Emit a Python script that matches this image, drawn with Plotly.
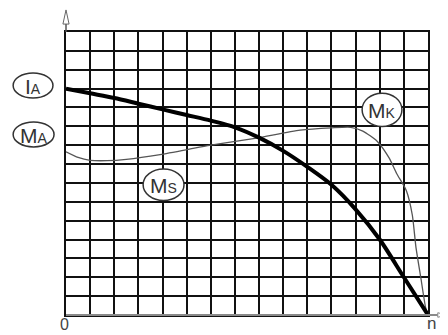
import plotly.graph_objects as go

# -------------------------------------------------------
# Curve data (grid units: 15 x 15 cells)
# -------------------------------------------------------
n_ia = [0, 1, 2, 3, 4, 5, 6, 7, 8, 9, 10, 11, 12, 13, 14, 15]
ia = [12.0, 11.75, 11.5, 11.2, 10.9, 10.6, 10.3, 9.95, 9.4, 8.7, 7.85, 6.9, 5.6, 4.0, 2.0, 0.0]

n_mk = [0, 0.5, 1.0, 1.7, 2.5, 3.9, 6.0, 7.9, 9.7, 11.0, 11.8, 12.3, 12.9, 13.4,
        13.7, 14.1, 14.35, 14.5, 14.7, 14.9, 15]
mk = [8.65, 8.35, 8.2, 8.18, 8.25, 8.5, 9.0, 9.38, 9.8, 9.92, 9.95, 9.75, 9.2, 8.3,
      7.5, 6.6, 5.3, 3.6, 2.0, 0.4, 0.0]

GRID = list(range(0, 16))

# circled labels: main letter, index, ellipse box in paper coords (x0, x1, y0, y1)
labels = [
    ("I", "A", (-0.146, -0.036, 0.767, 0.855)),
    ("M", "A", (-0.146, -0.033, 0.594, 0.682)),
    ("M", "S", (0.213, 0.326, 0.405, 0.516)),
    ("M", "K", (0.818, 0.928, 0.666, 0.784)),
]

fig = go.Figure()

# Thin torque curve (M_A -> M_S -> M_K)
fig.add_trace(
    go.Scatter(
        x=n_mk, y=mk,
        mode="lines",
        line=dict(color="#555555", width=1.3, shape="spline", smoothing=0.6),
        hoverinfo="skip",
    )
)

# Thick current curve (I_A)
fig.add_trace(
    go.Scatter(
        x=n_ia, y=ia,
        mode="lines",
        line=dict(color="black", width=4, shape="spline", smoothing=0.8),
        hoverinfo="skip",
    )
)

# -------------------------------------------------------
# Axis extensions + open arrow heads
# -------------------------------------------------------
fig.add_shape(type="line", xref="paper", yref="paper", x0=0, x1=0, y0=1, y1=1.03,
              line=dict(color="#555555", width=1.5))
fig.add_shape(type="path", xref="paper", yref="paper",
              path="M -0.0085 1.028 L 0 1.078 L 0.0085 1.028 Z",
              line=dict(color="#666666", width=1), fillcolor="white")

fig.add_shape(type="line", xref="paper", yref="paper", x0=0, x1=1.027, y0=0, y1=0,
              line=dict(color="#8a8a8a", width=2))
fig.add_shape(type="path", xref="paper", yref="paper",
              path="M 1.027 -0.008 L 1.052 0 L 1.027 0.008 Z",
              line=dict(color="#888888", width=1), fillcolor="white")

# -------------------------------------------------------
# Circled labels
# -------------------------------------------------------
label_font = dict(family="Liberation Sans, Arial, sans-serif", size=21, color="#333333")

for main, idx, (x0, x1, y0, y1) in labels:
    fig.add_shape(type="circle", xref="paper", yref="paper",
                  x0=x0, x1=x1, y0=y0, y1=y1,
                  line=dict(color="#333333", width=1.5), fillcolor="white")
    fig.add_annotation(
        x=(x0 + x1) / 2, y=(y0 + y1) / 2, xref="paper", yref="paper",
        text=f"{main}<span style='font-size:14px'>{idx}</span>",
        showarrow=False, font=label_font,
        xanchor="center", yanchor="middle", yshift=-1,
    )

# 0 and n labels
fig.add_annotation(x=-0.003, y=-0.032, xref="paper", yref="paper", text="0",
                   showarrow=False, yanchor="middle", xanchor="center",
                   font=dict(family="Liberation Sans, Arial", size=16, color="#444444"))
fig.add_annotation(x=1.011, y=-0.03, xref="paper", yref="paper", text="n",
                   showarrow=False, yanchor="middle", xanchor="center",
                   font=dict(family="Liberation Sans, Arial", size=17, color="#444444"))

# -------------------------------------------------------
# Layout
# -------------------------------------------------------
axis_style = dict(
    range=[0, 15],
    tickvals=GRID, showticklabels=False, ticks="",
    showgrid=True, gridcolor="#111111", gridwidth=2,
    zeroline=False,
    showline=True, linecolor="#111111", linewidth=2, mirror=True,
)
fig.update_xaxes(**axis_style)
fig.update_yaxes(**axis_style)

# page body has an 8px margin, so the figure is shifted by 8px
fig.update_layout(
    width=440, height=327,
    margin=dict(l=58, r=20, t=24, b=20),
    paper_bgcolor="white", plot_bgcolor="white",
    showlegend=False,
)

fig.write_html("out.html", config={"displayModeBar": False})
